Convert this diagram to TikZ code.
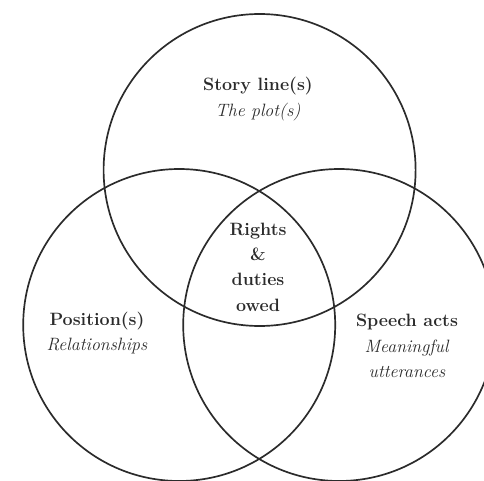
\documentclass[tikz,border=0pt]{standalone}
\usepackage{amsmath}
\definecolor{ink}{HTML}{2B2B2B}

\tikzset{
	venn/.style = {draw = ink, circle, line width = 1.2pt, minimum size = 7.8cm, inner sep = 0pt},
	lbl/.style = {align = center, text = ink, font = \fontsize{12.7}{18}\selectfont}
}

\begin{document}
\begin{tikzpicture}
		\path[use as bounding box, clip] (0,0) rectangle (12.1,12);

		\node[venn] (S) at (6.49,7.75)  {};
		\node[venn] (P) at (4.48,3.875) {};
		\node[venn] (A) at (8.48,3.875) {};

		\node[lbl] (story)  at (6.45,9.525)  {\textbf{Story line(s)}\\ \textit{The plot(s)}};
		\node[lbl] (rights) at (6.45,5.325)  {\textbf{Rights}\\ \textbf{\&}\\ \textbf{duties}\\ \textbf{owed}};
		\node[lbl] (pos)    at (2.425,3.675) {\textbf{Position(s)}\\ \textit{Relationships}};
		\node[lbl] (speech) at (10.175,3.35) {\textbf{Speech acts}\\ \textit{Meaningful}\\ \textit{utterances}};
	\end{tikzpicture}
\end{document}
